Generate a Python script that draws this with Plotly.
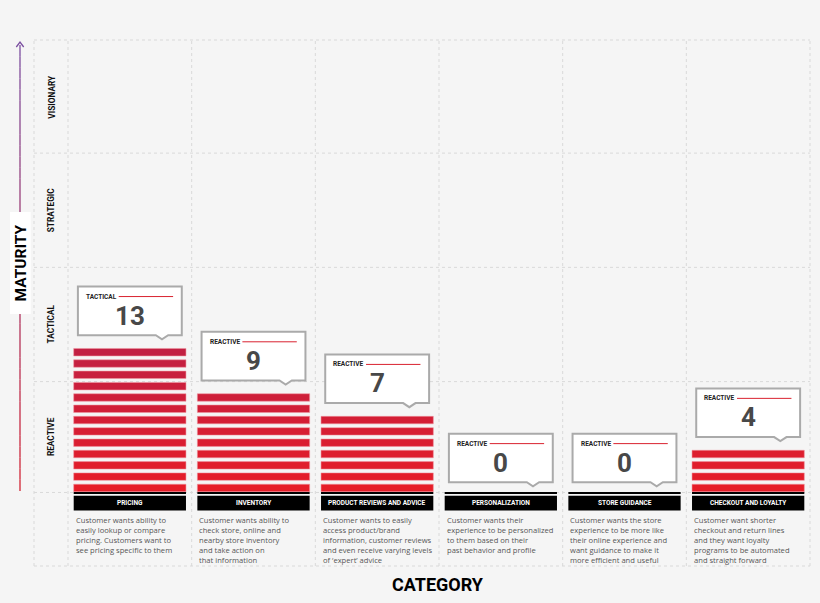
import plotly.graph_objects as go

# ---------------- data ----------------
categories = ["PRICING", "INVENTORY", "PRODUCT REVIEWS AND ADVICE",
              "PERSONALIZATION", "STORE GUIDANCE", "CHECKOUT AND LOYALTY"]
values = [13, 9, 7, 0, 0, 4]
maturity = ["TACTICAL", "REACTIVE", "REACTIVE", "REACTIVE", "REACTIVE", "REACTIVE"]
descriptions = [
    "Customer wants ability to<br>easily lookup or compare<br>pricing. Customers want to<br>see pricing specific to them",
    "Customer wants ability to<br>check store, online and<br>nearby store inventory<br>and take action on<br>that information",
    "Customer wants to easily<br>access product/brand<br>information, customer reviews<br>and even receive varying levels<br>of \u2018expert\u2019 advice",
    "Customer wants their<br>experience to be personalized<br>to them based on their<br>past behavior and profile",
    "Customer wants the store<br>experience to be more like<br>their online experience and<br>want guidance to make it<br>more efficient and useful",
    "Customer want shorter<br>checkout and return lines<br>and they want loyalty<br>programs to be automated<br>and straight forward",
]
row_labels = ["REACTIVE", "TACTICAL", "STRATEGIC", "VISIONARY"]
row_bounds = [0, 9.8, 19.9, 30, 40]

# ---------------- styling ----------------
BG = "#f5f5f5"
GRID = "#d9d9d9"
BAR_W = 0.908
X_LEFT = -0.775
X_RIGHT = 5.5
Y_BOTTOM = -6.5
Y_TOP = 40
FONT = "Open Sans"

xs = list(range(len(categories)))
fig = go.Figure()


def lerp(c0, c1, t):
    return "rgb(%d,%d,%d)" % tuple(round(a + (b - a) * t) for a, b in zip(c0, c1))


c_low, c_high = (230, 29, 40), (194, 32, 66)
max_v = max(values)
for k in range(max_v):
    sel = [i for i, v in zip(xs, values) if v > k]
    t = k / max(max_v - 1, 1)
    fig.add_trace(go.Bar(
        x=sel, y=[0.66] * len(sel), base=[k + 0.07] * len(sel), width=BAR_W,
        marker=dict(color=lerp(c_low, c_high, t),
                    line=dict(color="rgba(240,150,160,0.55)", width=1)),
        hoverinfo="skip", showlegend=False))

# black baseline under each bar
fig.add_trace(go.Bar(x=xs, y=[0.16] * len(xs), base=[-0.13] * len(xs), width=BAR_W,
                     marker=dict(color="black", line=dict(width=0)),
                     hoverinfo="skip", showlegend=False))
# black category label boxes
fig.add_trace(go.Bar(x=xs, y=[1.3] * len(xs), base=[-1.6] * len(xs), width=BAR_W,
                     marker=dict(color="black", line=dict(width=0)),
                     hoverinfo="skip", showlegend=False))

shapes = []
annotations = []

# grid (dashed)
for xv in [X_LEFT] + [i - 0.5 for i in range(len(xs) + 1)]:
    shapes.append(dict(type="line", xref="x", yref="y", x0=xv, x1=xv, y0=Y_BOTTOM, y1=Y_TOP,
                       line=dict(color=GRID, width=1, dash="dot"), layer="below"))
for yv in [Y_BOTTOM] + row_bounds:
    shapes.append(dict(type="line", xref="x", yref="y", x0=X_LEFT, x1=X_RIGHT, y0=yv, y1=yv,
                       line=dict(color=GRID, width=1, dash="dot"), layer="below"))

# row labels
for j, lab in enumerate(row_labels):
    annotations.append(dict(x=-0.637, y=(row_bounds[j] + row_bounds[j + 1]) / 2, xref="x", yref="y",
                            text="<b>%s</b>" % lab, textangle=-90, showarrow=False,
                            xanchor="center", yanchor="middle",
                            font=dict(family="Roboto", size=8.3, color="#111")))

# category labels and descriptions
for i, cat in enumerate(categories):
    annotations.append(dict(x=i, y=-0.95, xref="x", yref="y", text="<b>%s</b>" % cat,
                            showarrow=False, xanchor="center", yanchor="middle",
                            font=dict(family="Roboto", size=6.5, color="white")))
    annotations.append(dict(x=i - BAR_W / 2, y=-1.85, xref="x", yref="y", text=descriptions[i],
                            showarrow=False, xanchor="left", yanchor="top", align="left",
                            font=dict(family=FONT, size=7.6, color="#555")))

# callouts
for i, v in enumerate(values):
    left, right = i - 0.42, i + 0.42
    bottom, top = v + 0.9, v + 5.2
    px = i + 0.26
    path = (f"M {left},{bottom} L {px - 0.05},{bottom} L {px},{bottom - 0.36} "
            f"L {px + 0.05},{bottom} L {right},{bottom} L {right},{top} L {left},{top} Z")
    shapes.append(dict(type="path", xref="x", yref="y", path=path, fillcolor="white",
                       line=dict(color="#aaaaaa", width=2)))
    shapes.append(dict(type="line", xref="x", yref="y", x0=left + 0.33, x1=right - 0.07,
                       y0=top - 0.88, y1=top - 0.88, line=dict(color="#d9222f", width=1)))
    annotations.append(dict(x=left + 0.05, y=top - 0.88, xref="x", yref="y",
                            text="<b>%s</b>" % maturity[i], showarrow=False,
                            xanchor="left", yanchor="middle",
                            font=dict(family="Roboto", size=6.5, color="#222")))
    annotations.append(dict(x=i, y=top - 2.56, xref="x", yref="y", text="<b>%d</b>" % v,
                            showarrow=False, xanchor="center", yanchor="middle",
                            font=dict(family="Roboto", size=26, color="#484848")))

# maturity arrow (gradient) in paper coordinates
L, T, B, H, W = 30, 36, 33, 603, 820
PW = W - L - 6
PH = H - T - B


def pxp(p):
    return (p - L) / PW


def pyp(p):
    return (H - B - p) / PH


top_c, bot_c = (122, 78, 160), (210, 35, 50)
n_seg = 40
y_a, y_b = 45.0, 491.0
for s in range(n_seg):
    p0 = y_a + (y_b - y_a) * s / n_seg
    p1 = y_a + (y_b - y_a) * (s + 1) / n_seg
    shapes.append(dict(type="line", xref="paper", yref="paper", x0=pxp(20), x1=pxp(20),
                       y0=pyp(p0), y1=pyp(p1),
                       line=dict(color=lerp(top_c, bot_c, (s + 0.5) / n_seg), width=1.3)))
shapes.append(dict(type="path", xref="paper", yref="paper",
                   path=f"M {pxp(16.3)},{pyp(47)} L {pxp(20)},{pyp(42)} L {pxp(23.7)},{pyp(47)}",
                   line=dict(color=lerp(top_c, bot_c, 0), width=1.3)))
shapes.append(dict(type="rect", xref="paper", yref="paper", x0=pxp(10), x1=pxp(30.7),
                   y0=pyp(314), y1=pyp(212), fillcolor="white", line=dict(width=0)))
annotations.append(dict(x=pxp(20.5), y=pyp(263), xref="paper", yref="paper",
                        text="<b>MATURITY</b>", textangle=-90, showarrow=False,
                        xanchor="center", yanchor="middle",
                        font=dict(family="Roboto", size=15.5, color="black", weight=900)))
annotations.append(dict(x=pxp(438), y=pyp(584), xref="paper", yref="paper",
                        text="<b>CATEGORY</b>", showarrow=False,
                        xanchor="center", yanchor="middle",
                        font=dict(family="Roboto", size=18, color="black", weight=900)))

x_pad = 4 / 123.67
y_pad = 4 / 11.316
fig.update_layout(
    width=W, height=H,
    margin=dict(l=L, r=6, t=T, b=B),
    paper_bgcolor=BG, plot_bgcolor=BG,
    barmode="overlay",
    showlegend=False,
    hovermode=False,
    xaxis=dict(range=[X_LEFT - x_pad, X_RIGHT + x_pad], showgrid=False, zeroline=False,
               showticklabels=False, fixedrange=True),
    yaxis=dict(range=[Y_BOTTOM - y_pad, Y_TOP + y_pad], showgrid=False, zeroline=False,
               showticklabels=False, fixedrange=True),
    shapes=shapes,
    annotations=annotations,
)

fig.write_html("out.html", config={"displayModeBar": False},
               post_script="document.body.style.margin='0';document.body.style.background='%s';" % BG)
